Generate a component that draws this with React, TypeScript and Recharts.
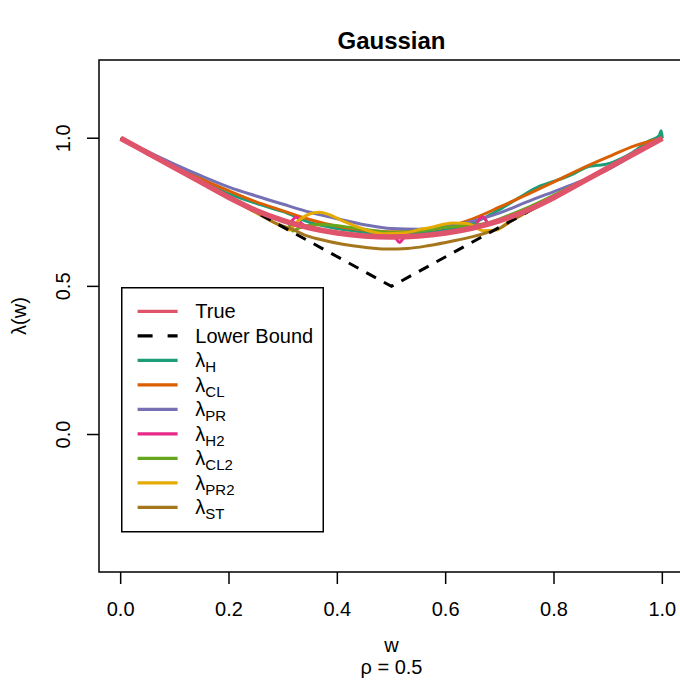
import React from "react";
import { LineChart, Line, XAxis, YAxis, ReferenceArea, Legend } from "recharts";

const FONT = '"Liberation Sans", Arial, Helvetica, sans-serif';

// common w grid for the smooth curves
const wGrid = [
  0, 0.05, 0.1, 0.15, 0.2, 0.25, 0.3, 0.35, 0.4, 0.45, 0.5, 0.55, 0.6, 0.65,
  0.7, 0.75, 0.8, 0.85, 0.9, 0.95, 1,
];
const trueLambda = [
  1.0, 0.95, 0.9, 0.85, 0.8, 0.756, 0.722, 0.697, 0.68, 0.67, 0.667, 0.67,
  0.68, 0.697, 0.722, 0.756, 0.8, 0.85, 0.9, 0.95, 1.0,
];
const lambdaPR = [
  1.0, 0.955, 0.912, 0.872, 0.835, 0.805, 0.777, 0.75, 0.728, 0.708, 0.695,
  0.693, 0.702, 0.72, 0.748, 0.785, 0.82, 0.855, 0.895, 0.948, 1.0,
];
const lambdaCL = [
  1.0, 0.952, 0.906, 0.862, 0.822, 0.785, 0.755, 0.725, 0.703, 0.69, 0.684,
  0.688, 0.7, 0.728, 0.768, 0.81, 0.853, 0.897, 0.937, 0.975, 1.0,
];

const lowerW = [0, 0.5, 1];
const lowerBound = [1, 0.5, 1];

const lambdaH: [number, number][] = [
  [0, 1], [0.05, 0.95], [0.1, 0.9], [0.15, 0.854], [0.2, 0.812], [0.25, 0.78],
  [0.3, 0.752], [0.35, 0.715], [0.4, 0.695], [0.45, 0.683], [0.5, 0.676],
  [0.55, 0.679], [0.6, 0.69], [0.65, 0.713], [0.7, 0.76], [0.736, 0.8],
  [0.77, 0.835], [0.81, 0.861], [0.834, 0.878], [0.86, 0.902], [0.887, 0.91],
  [0.896, 0.912], [0.921, 0.929], [0.945, 0.952], [0.976, 0.991],
  [0.994, 1.008], [0.998, 1.025], [1, 1],
];
const lambdaH2: [number, number][] = [
  [0, 1], [0.1, 0.9], [0.2, 0.8], [0.25, 0.756], [0.3, 0.722], [0.312, 0.716],
  [0.324, 0.734], [0.334, 0.712], [0.35, 0.697], [0.4, 0.68], [0.45, 0.67],
  [0.5, 0.667], [0.507, 0.664], [0.515, 0.648], [0.523, 0.664], [0.55, 0.67],
  [0.6, 0.68], [0.65, 0.697], [0.668, 0.735], [0.68, 0.712], [0.7, 0.722],
  [0.75, 0.756], [0.8, 0.8], [0.9, 0.9], [1, 1],
];
const lambdaCL2: [number, number][] = [
  [0, 1], [0.1, 0.9], [0.2, 0.8], [0.25, 0.757], [0.3, 0.722], [0.31, 0.712],
  [0.318, 0.687], [0.33, 0.698], [0.367, 0.709], [0.4, 0.705], [0.44, 0.695],
  [0.5, 0.682], [0.552, 0.687], [0.6, 0.7], [0.644, 0.705], [0.68, 0.715],
  [0.7, 0.728], [0.75, 0.765], [0.8, 0.808], [0.85, 0.853], [0.9, 0.9],
  [0.95, 0.95], [1, 1],
];
const lambdaPR2: [number, number][] = [
  [0, 1], [0.2, 0.8], [0.3, 0.7], [0.312, 0.69], [0.324, 0.715],
  [0.336, 0.732], [0.35, 0.745], [0.367, 0.75], [0.38, 0.745], [0.41, 0.721],
  [0.441, 0.698], [0.484, 0.678], [0.527, 0.681], [0.552, 0.692],
  [0.57, 0.698], [0.613, 0.714], [0.64, 0.712], [0.65, 0.705], [0.668, 0.688],
  [0.693, 0.69], [0.712, 0.712], [0.75, 0.75], [0.8, 0.8], [0.9, 0.9], [1, 1],
];
const lambdaST: [number, number][] = [
  [0, 1], [0.2, 0.8], [0.25, 0.75], [0.29, 0.71], [0.318, 0.692],
  [0.34, 0.673], [0.367, 0.659], [0.41, 0.642], [0.45, 0.632], [0.49, 0.626],
  [0.53, 0.628], [0.57, 0.638], [0.613, 0.653], [0.65, 0.668], [0.675, 0.681],
  [0.7, 0.697], [0.725, 0.725], [0.8, 0.8], [0.9, 0.9], [1, 1],
];

const xTicks = [0, 0.2, 0.4, 0.6, 0.8, 1];
const yTicks = [0, 0.5, 1];

const fromGrid = (ws: number[], vs: number[]) => ws.map((w, i) => ({ w, v: vs[i] }));
const fromPairs = (pairs: [number, number][]) => pairs.map(([w, v]) => ({ w, v }));

const estimates = [
  { key: "H", color: "#1B9E77", data: fromPairs(lambdaH) },
  { key: "CL", color: "#D95F02", data: fromGrid(wGrid, lambdaCL) },
  { key: "PR", color: "#7570B3", data: fromGrid(wGrid, lambdaPR) },
  { key: "H2", color: "#E7298A", data: fromPairs(lambdaH2) },
  { key: "CL2", color: "#66A61E", data: fromPairs(lambdaCL2) },
  { key: "PR2", color: "#E6AB02", data: fromPairs(lambdaPR2) },
  { key: "ST", color: "#A6761D", data: fromPairs(lambdaST) },
];

const TRUE_COLOR = "#DF536B";

const legendEntries = [
  { label: "True", sub: "", color: TRUE_COLOR, dashed: false },
  { label: "Lower Bound", sub: "", color: "#000", dashed: true },
  ...estimates.map((e) => ({ label: "λ", sub: e.key, color: e.color, dashed: false })),
];

function XTick(props: any) {
  const { x, y, payload } = props;
  return (
    <text x={x} y={y} dy={25} textAnchor="middle" dominantBaseline="central"
      fontSize={20} fontFamily={FONT} fill="#000">
      {payload.value.toFixed(1)}
    </text>
  );
}

function YTick(props: any) {
  const { x, y, payload } = props;
  const cx = x - 24;
  return (
    <text x={cx} y={y} transform={`rotate(-90, ${cx}, ${y})`} textAnchor="middle"
      dominantBaseline="central" fontSize={20} fontFamily={FONT} fill="#000">
      {payload.value.toFixed(1)}
    </text>
  );
}

function LegendBox() {
  const rowH = 24.5;
  return (
    <svg width={204} height={246} style={{ display: "block" }}>
      <rect x={0.75} y={0.75} width={201.5} height={244} fill="#fff" stroke="#000" strokeWidth={1.5} />
      {legendEntries.map((e, i) => {
        const y = 24.4 + i * rowH;
        return (
          <g key={i}>
            <line x1={16.6} x2={56.6} y1={y} y2={y} stroke={e.color} strokeWidth={3.3}
              strokeDasharray={e.dashed ? "15 15" : undefined} />
            <text x={74.3} y={y} dominantBaseline="central" fontSize={20} fontFamily={FONT} fill="#000">
              {e.label}
              {e.sub && <tspan dy={6} fontSize={15}>{e.sub}</tspan>}
            </text>
          </g>
        );
      })}
    </svg>
  );
}

export default function App() {
  return (
    <div style={{ position: "fixed", left: 0, top: 0, width: 680, height: 683, overflow: "hidden", background: "#fff" }}>
      <LineChart width={690} height={683} margin={{ top: 60, right: 6, bottom: 0, left: 0 }}>
        <XAxis type="number" dataKey="w" domain={[-0.04, 1.04]} ticks={xTicks} allowDataOverflow
          axisLine={false} tickLine={{ stroke: "#000", strokeWidth: 1.5 }} tickSize={12} tickMargin={0}
          height={111} tick={<XTick />} interval={0} />
        <YAxis type="number" dataKey="v" domain={[-0.464, 1.264]} ticks={yTicks} allowDataOverflow
          axisLine={false} tickLine={{ stroke: "#000", strokeWidth: 1.5 }} tickSize={12} tickMargin={0}
          width={99} tick={<YTick />} interval={0} />
        <ReferenceArea x1={-0.04} x2={1.04} y1={-0.464} y2={1.264} fill="none" fillOpacity={0}
          stroke="#000" strokeWidth={1.5} ifOverflow="visible" />
        {estimates.map((e) => (
          <Line key={e.key} data={e.data} dataKey="v" type="monotone" stroke={e.color}
            strokeWidth={3} dot={false} isAnimationActive={false} />
        ))}
        <Line data={fromGrid(lowerW, lowerBound)} dataKey="v" type="linear" stroke="#000"
          strokeWidth={3} strokeDasharray="11 9" dot={false} isAnimationActive={false} />
        <Line data={fromGrid(wGrid, trueLambda)} dataKey="v" type="monotone" stroke={TRUE_COLOR}
          strokeWidth={5.5} dot={false} isAnimationActive={false} />
        <Legend layout="vertical" align="center" verticalAlign="middle" content={() => <LegendBox />}
          wrapperStyle={{ position: "absolute", left: 121, top: 287, width: 204, height: 246 }} />
      </LineChart>
      <svg width={680} height={683} style={{ position: "absolute", left: 0, top: 0, pointerEvents: "none" }}>
        <text x={391.5} y={40} textAnchor="middle" dominantBaseline="central" fontSize={24}
          fontWeight="bold" fontFamily={FONT} fill="#000">Gaussian</text>
        <text x={391.5} y={645} textAnchor="middle" dominantBaseline="central" fontSize={20}
          fontFamily={FONT} fill="#000">w</text>
        <text x={391.5} y={667} textAnchor="middle" dominantBaseline="central" fontSize={20}
          fontFamily={FONT} fill="#000">ρ = 0.5</text>
        <text transform="translate(26, 316) rotate(-90)" textAnchor="middle" fontSize={20}
          fontFamily={FONT} fill="#000">λ(w)</text>
      </svg>
    </div>
  );
}
